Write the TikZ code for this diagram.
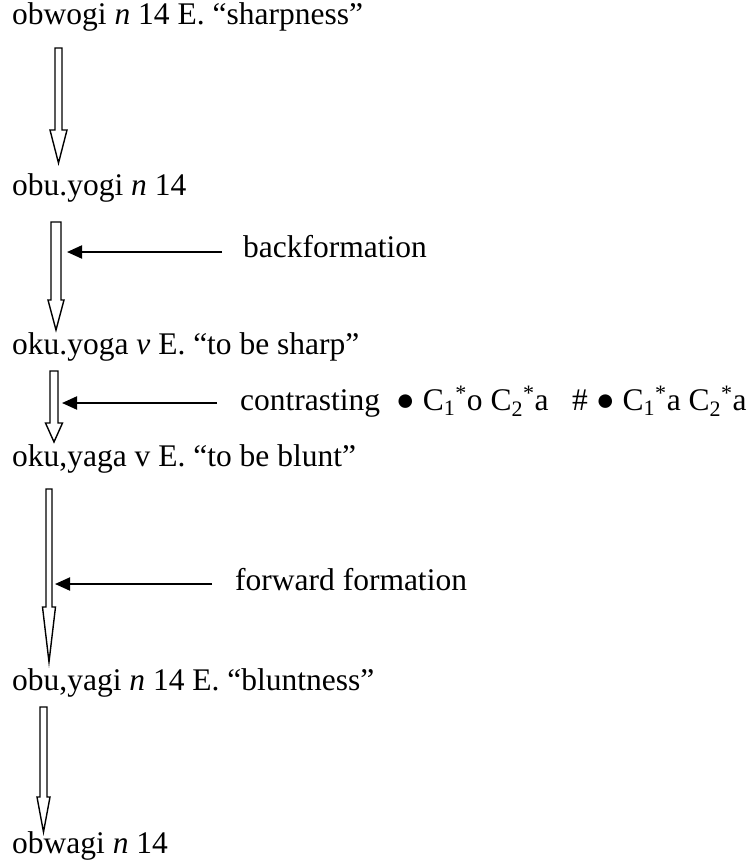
\documentclass[tikz,border=0pt]{standalone}
\usepackage{fontspec}
\setmainfont{Liberation Serif}
\usetikzlibrary{arrows.meta}
\newcommand\blkarrow[6]{% cx, top, headstart, tip, shaft half, head half
  \draw[hollow] ({#1-#5},#2) -- ({#1+#5},#2) -- ({#1+#5},#3) -- ({#1+#6},#3)
    -- (#1,#4) -- ({#1-#6},#3) -- ({#1-#5},#3) -- cycle;}
\begin{document}
\begin{tikzpicture}[x=1pt,y=-1pt,
  txt/.style={anchor=base west,inner sep=0pt,font=\fontsize{31.5}{36}\selectfont},
  hollow/.style={draw=black,line width=1.4pt,fill=white,line join=miter},
  harrow/.style={draw=black,line width=2pt,-{Triangle[length=15pt,width=13pt]}}]
\useasboundingbox (0,0) rectangle (752,867);
% entries
\node[txt] (l1) at (12,25) {obwogi \textit{n} 14 E. “sharpness”};
\node[txt] (l2) at (12,195) {obu.yogi \textit{n} 14};
\node[txt] (l3) at (12,354) {oku.yoga \textit{v} E. “to be sharp”};
\node[txt] (l4) at (12,466) {oku,yaga v E. “to be blunt”};
\node[txt] (l5) at (12,690) {obu,yagi \textit{n} 14 E. “bluntness”};
\node[txt] (l6) at (12,853) {obwagi \textit{n} 14};
% labels
\node[txt] (lb1) at (243,257) {backformation};
\node[txt] (lb2) at (240,410) {contrasting\ \ ●\ C\textsubscript{1}\textsuperscript{*}o C\textsubscript{2}\textsuperscript{*}a\ \ \ \#\ ●\ C\textsubscript{1}\textsuperscript{*}a C\textsubscript{2}\textsuperscript{*}a};
\node[txt] (lb3) at (235,590) {forward formation};
% hollow arrows
\blkarrow{58.5}{48}{130}{163}{3.5}{8.5}
\blkarrow{56}{222}{300}{330}{5}{8}
\blkarrow{54}{371}{423}{442}{4}{8.5}
\blkarrow{49}{489}{607}{662}{3}{6.5}
\blkarrow{43.5}{707}{797}{832}{3.5}{6.5}
% horizontal arrows
\coordinate (t1) at (222,252); \coordinate (h1) at (67,252);
\coordinate (t2) at (217,403); \coordinate (h2) at (62,403);
\coordinate (t3) at (212,584); \coordinate (h3) at (55,584);
\draw[harrow] (t1) -- (h1);
\draw[harrow] (t2) -- (h2);
\draw[harrow] (t3) -- (h3);
\end{tikzpicture}
\end{document}
